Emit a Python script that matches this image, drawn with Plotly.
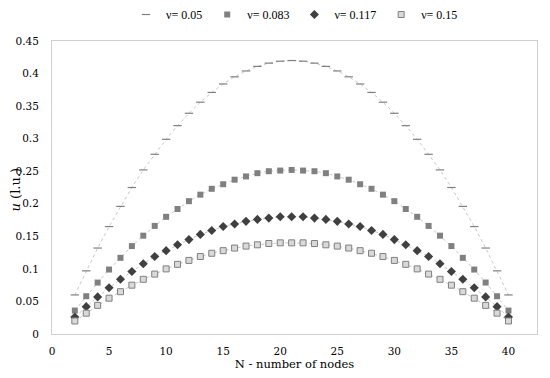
import plotly.graph_objects as go

nodes = list(range(2, 41))

half_005 = [0.060, 0.097, 0.132, 0.165, 0.196, 0.225, 0.252, 0.276, 0.299, 0.320,
            0.339, 0.356, 0.371, 0.384, 0.395, 0.404, 0.411, 0.416, 0.419]
peak_005 = 0.420
half_0083 = [0.036, 0.058, 0.079, 0.099, 0.117, 0.135, 0.151, 0.166, 0.180, 0.192,
             0.204, 0.214, 0.223, 0.230, 0.237, 0.242, 0.247, 0.250, 0.251]
peak_0083 = 0.252
half_0117 = [0.026, 0.042, 0.057, 0.071, 0.084, 0.096, 0.108, 0.119, 0.128, 0.137,
             0.145, 0.153, 0.159, 0.165, 0.169, 0.173, 0.176, 0.178, 0.180]
peak_0117 = 0.180
half_015 = [0.020, 0.032, 0.044, 0.055, 0.065, 0.075, 0.084, 0.092, 0.100, 0.107,
            0.113, 0.119, 0.124, 0.128, 0.132, 0.135, 0.137, 0.139, 0.140]
peak_015 = 0.140

u_005 = half_005 + [peak_005] + half_005[::-1]
u_0083 = half_0083 + [peak_0083] + half_0083[::-1]
u_0117 = half_0117 + [peak_0117] + half_0117[::-1]
u_015 = half_015 + [peak_015] + half_015[::-1]

names = ["ν= 0.05", "ν= 0.083", "ν= 0.117", "ν= 0.15"]
series = [u_005, u_0083, u_0117, u_015]
markers = [
    dict(symbol="line-ew", size=6, color="#808080", line=dict(color="#808080", width=1.2)),
    dict(symbol="square", size=6, color="#808080", line=dict(color="#808080", width=0)),
    dict(symbol="diamond", size=7, color="#404040", line=dict(color="#404040", width=0)),
    dict(symbol="square", size=6, color="#d9d9d9", line=dict(color="#808080", width=1)),
]

fig = go.Figure()
for ys in series:
    fig.add_trace(go.Scatter(x=nodes, y=ys, mode="lines", showlegend=False,
                             line=dict(color="#b8b8b8", width=0.8, dash="dot"),
                             hoverinfo="skip"))
for nm, ys, mk in zip(names, series, markers):
    fig.add_trace(go.Scatter(x=nodes, y=ys, mode="markers", name=nm, marker=mk))

font_family = "Liberation Serif"
tick_family = "DejaVu Serif"
tickfont = dict(family=tick_family, size=10.5, color="#000000")
fig.update_layout(
    width=550, height=378,
    margin=dict(l=52, r=13, t=41, b=44, autoexpand=False),
    paper_bgcolor="white", plot_bgcolor="white",
    font=dict(family=font_family, size=12, color="#000000"),
    legend=dict(orientation="h", x=0.5, xanchor="center", y=1.0, yanchor="top",
                yref="container",
                font=dict(family=font_family, size=12),
                itemwidth=30, tracegroupgap=0, bgcolor="rgba(0,0,0,0)"),
    xaxis=dict(range=[0, 42.5], tickvals=[0, 5, 10, 15, 20, 25, 30, 35, 40],
               tickfont=tickfont, automargin=False,
               showgrid=False, zeroline=False, showline=True, linecolor="#d0d0d0",
               linewidth=1, mirror=True, ticks="outside", ticklen=7, tickcolor="rgba(0,0,0,0)",
               title=dict(text="N - number of nodes", standoff=3,
                          font=dict(family=tick_family, size=11.5))),
    yaxis=dict(range=[0, 0.45], tickvals=[0, 0.05, 0.1, 0.15, 0.2, 0.25, 0.3, 0.35, 0.4, 0.45],
               ticktext=["0", "0.05", "0.1", "0.15", "0.2", "0.25", "0.3", "0.35", "0.4", "0.45"],
               tickfont=tickfont, automargin=False,
               showgrid=False, zeroline=False, showline=True, linecolor="#d0d0d0",
               linewidth=1, mirror=True, ticks="outside", ticklen=10, tickcolor="rgba(0,0,0,0)"),
    annotations=[dict(text="<i>u</i> (l.u.)", xref="paper", yref="paper",
                      x=-37 / 485, y=0.49, xanchor="center", yanchor="middle",
                      textangle=-90, showarrow=False,
                      font=dict(family=tick_family, size=13, color="#000000"))],
)
fig.write_html("out.html", config={"displayModeBar": False},
               post_script="document.body.style.margin='0';")
